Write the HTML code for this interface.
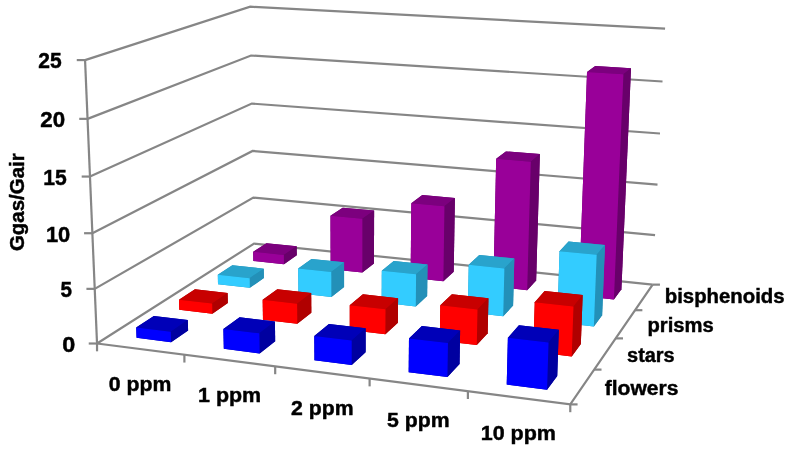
<!DOCTYPE html>
<html><head><meta charset="utf-8"><style>
html,body{margin:0;padding:0;background:#fff;}
svg{display:block;will-change:transform;}
text{font-family:"Liberation Sans",sans-serif;font-weight:bold;fill:#000;stroke:#000;stroke-width:0.45px;}
</style></head><body>
<svg width="789" height="449" viewBox="0 0 789 449">
<rect width="789" height="449" fill="#fff"/>
<polyline points="97.03,343.51 254.06,243.55 652.66,284.64" fill="none" stroke="#868686" stroke-width="2.2"/>
<polyline points="94.72,288.86 253.32,197.59 655.06,235.08" fill="none" stroke="#868686" stroke-width="2.2"/>
<polyline points="92.37,233.22 252.56,150.94 657.50,184.71" fill="none" stroke="#868686" stroke-width="2.2"/>
<polyline points="89.98,176.56 251.79,103.59 659.99,133.52" fill="none" stroke="#868686" stroke-width="2.2"/>
<polyline points="87.54,118.85 251.02,55.52 662.51,81.48" fill="none" stroke="#868686" stroke-width="2.2"/>
<polyline points="85.06,60.08 250.23,6.72 665.08,28.58" fill="none" stroke="#868686" stroke-width="2.2"/>
<line x1="97.03" y1="343.51" x2="85.06" y2="60.08" stroke="#868686" stroke-width="2.2"/>
<line x1="88.73" y1="343.51" x2="97.03" y2="343.51" stroke="#868686" stroke-width="2.2"/>
<line x1="86.42" y1="288.86" x2="94.72" y2="288.86" stroke="#868686" stroke-width="2.2"/>
<line x1="84.07" y1="233.22" x2="92.37" y2="233.22" stroke="#868686" stroke-width="2.2"/>
<line x1="81.68" y1="176.56" x2="89.98" y2="176.56" stroke="#868686" stroke-width="2.2"/>
<line x1="79.24" y1="118.85" x2="87.54" y2="118.85" stroke="#868686" stroke-width="2.2"/>
<line x1="76.76" y1="60.08" x2="85.06" y2="60.08" stroke="#868686" stroke-width="2.2"/>
<polyline points="97.03,343.51 570.27,404.40 652.66,284.64" fill="none" stroke="#868686" stroke-width="2.2"/>
<line x1="97.03" y1="343.51" x2="97.03" y2="351.31" stroke="#868686" stroke-width="2.2"/>
<line x1="184.40" y1="354.75" x2="184.40" y2="362.55" stroke="#868686" stroke-width="2.2"/>
<line x1="275.19" y1="366.43" x2="275.19" y2="374.23" stroke="#868686" stroke-width="2.2"/>
<line x1="369.61" y1="378.58" x2="369.61" y2="386.38" stroke="#868686" stroke-width="2.2"/>
<line x1="467.89" y1="391.23" x2="467.89" y2="399.03" stroke="#868686" stroke-width="2.2"/>
<line x1="570.27" y1="404.40" x2="570.27" y2="412.20" stroke="#868686" stroke-width="2.2"/>
<line x1="570.27" y1="404.40" x2="577.57" y2="404.40" stroke="#868686" stroke-width="2.2"/>
<line x1="594.21" y1="369.61" x2="601.51" y2="369.61" stroke="#868686" stroke-width="2.2"/>
<line x1="615.69" y1="338.38" x2="622.99" y2="338.38" stroke="#868686" stroke-width="2.2"/>
<line x1="635.07" y1="310.20" x2="642.37" y2="310.20" stroke="#868686" stroke-width="2.2"/>
<line x1="652.66" y1="284.64" x2="659.96" y2="284.64" stroke="#868686" stroke-width="2.2"/>
<polygon points="253.31,260.92 283.95,264.20 296.76,255.35 296.67,246.29 266.44,243.18 253.16,251.77" fill="#68006a"/>
<polygon points="253.16,251.77 283.85,254.98 296.67,246.29 266.44,243.18" fill="#7c007e"/>
<polygon points="283.95,264.20 296.76,255.35 296.67,246.29 283.85,254.98" fill="#68006a"/>
<polygon points="253.31,260.92 283.95,264.20 283.85,254.98 253.16,251.77" fill="#990099"/>
<polygon points="330.68,269.19 362.34,272.57 373.95,263.43 374.12,210.62 342.68,207.67 330.47,215.82" fill="#68006a"/>
<polygon points="330.47,215.82 362.41,218.87 374.12,210.62 342.68,207.67" fill="#7c007e"/>
<polygon points="362.34,272.57 373.95,263.43 374.12,210.62 362.41,218.87" fill="#68006a"/>
<polygon points="330.68,269.19 362.34,272.57 362.41,218.87 330.47,215.82" fill="#990099"/>
<polygon points="410.63,277.72 443.37,281.22 453.71,271.77 454.90,198.04 422.29,195.12 411.31,203.19" fill="#68006a"/>
<polygon points="411.31,203.19 444.45,206.22 454.90,198.04 422.29,195.12" fill="#7c007e"/>
<polygon points="443.37,281.22 453.71,271.77 454.90,198.04 444.45,206.22" fill="#68006a"/>
<polygon points="410.63,277.72 443.37,281.22 444.45,206.22 411.31,203.19" fill="#990099"/>
<polygon points="493.31,286.55 527.18,290.17 536.14,280.40 539.88,154.09 505.87,151.40 496.20,158.85" fill="#68006a"/>
<polygon points="496.20,158.85 530.79,161.65 539.88,154.09 505.87,151.40" fill="#7c007e"/>
<polygon points="527.18,290.17 536.14,280.40 539.88,154.09 530.79,161.65" fill="#68006a"/>
<polygon points="493.31,286.55 527.18,290.17 530.79,161.65 496.20,158.85" fill="#990099"/>
<polygon points="578.86,295.69 613.91,299.43 621.40,289.32 631.01,68.21 595.26,66.03 587.04,72.05" fill="#68006a"/>
<polygon points="587.04,72.05 623.43,74.31 631.01,68.21 595.26,66.03" fill="#7c007e"/>
<polygon points="613.91,299.43 621.40,289.32 631.01,68.21 623.43,74.31" fill="#68006a"/>
<polygon points="578.86,295.69 613.91,299.43 623.43,74.31 587.04,72.05" fill="#990099"/>
<polygon points="218.01,284.18 249.85,287.76 263.86,278.08 263.73,268.63 232.33,265.24 217.80,274.63" fill="#2390b8"/>
<polygon points="217.80,274.63 249.68,278.16 263.73,268.63 232.33,265.24" fill="#29a3cc"/>
<polygon points="249.85,287.76 263.86,278.08 263.73,268.63 249.68,278.16" fill="#2390b8"/>
<polygon points="218.01,284.18 249.85,287.76 249.68,278.16 217.80,274.63" fill="#33ccff"/>
<polygon points="298.42,293.23 331.37,296.94 344.10,286.92 344.06,262.34 311.51,258.92 298.20,268.38" fill="#2390b8"/>
<polygon points="298.20,268.38 331.27,271.93 344.06,262.34 311.51,258.92" fill="#29a3cc"/>
<polygon points="331.37,296.94 344.10,286.92 344.06,262.34 331.27,271.93" fill="#2390b8"/>
<polygon points="298.42,293.23 331.37,296.94 331.27,271.93 298.20,268.38" fill="#33ccff"/>
<polygon points="381.66,302.60 415.77,306.44 427.13,296.07 427.50,264.51 393.77,261.02 381.80,270.70" fill="#2390b8"/>
<polygon points="381.80,270.70 416.09,274.33 427.50,264.51 393.77,261.02" fill="#29a3cc"/>
<polygon points="415.77,306.44 427.13,296.07 427.50,264.51 416.09,274.33" fill="#2390b8"/>
<polygon points="381.66,302.60 415.77,306.44 416.09,274.33 381.80,270.70" fill="#33ccff"/>
<polygon points="467.86,312.31 503.21,316.29 513.08,305.54 514.30,258.51 479.28,254.98 468.74,264.74" fill="#2390b8"/>
<polygon points="468.74,264.74 504.38,268.41 514.30,258.51 479.28,254.98" fill="#29a3cc"/>
<polygon points="503.21,316.29 513.08,305.54 514.30,258.51 504.38,268.41" fill="#2390b8"/>
<polygon points="467.86,312.31 503.21,316.29 504.38,268.41 468.74,264.74" fill="#33ccff"/>
<polygon points="557.21,322.37 593.86,326.49 602.12,315.35 604.97,244.95 568.54,241.45 559.57,251.15" fill="#2390b8"/>
<polygon points="559.57,251.15 596.67,254.80 604.97,244.95 568.54,241.45" fill="#29a3cc"/>
<polygon points="593.86,326.49 602.12,315.35 604.97,244.95 596.67,254.80" fill="#2390b8"/>
<polygon points="557.21,322.37 593.86,326.49 596.67,254.80 559.57,251.15" fill="#33ccff"/>
<polygon points="179.27,309.70 212.39,313.64 227.81,302.99 227.60,293.03 194.96,289.30 178.99,299.63" fill="#b00000"/>
<polygon points="178.99,299.63 212.16,303.50 227.60,293.03 194.96,289.30" fill="#c80000"/>
<polygon points="212.39,313.64 227.81,302.99 227.60,293.03 212.16,303.50" fill="#b00000"/>
<polygon points="179.27,309.70 212.39,313.64 212.16,303.50 178.99,299.63" fill="#ff0000"/>
<polygon points="262.97,319.66 297.30,323.75 311.33,312.71 311.19,293.05 277.32,289.25 262.67,299.78" fill="#b00000"/>
<polygon points="262.67,299.78 297.12,303.73 311.19,293.05 277.32,289.25" fill="#c80000"/>
<polygon points="297.30,323.75 311.33,312.71 311.19,293.05 297.12,303.73" fill="#b00000"/>
<polygon points="262.97,319.66 297.30,323.75 297.12,303.73 262.67,299.78" fill="#ff0000"/>
<polygon points="349.75,329.99 385.37,334.23 397.89,322.79 398.07,298.26 362.93,294.35 349.73,305.18" fill="#b00000"/>
<polygon points="349.73,305.18 385.50,309.26 398.07,298.26 362.93,294.35" fill="#c80000"/>
<polygon points="385.37,334.23 397.89,322.79 398.07,298.26 385.50,309.26" fill="#b00000"/>
<polygon points="349.75,329.99 385.37,334.23 385.50,309.26 349.73,305.18" fill="#ff0000"/>
<polygon points="439.80,340.71 476.77,345.12 487.67,333.23 488.43,298.18 451.92,294.19 440.29,305.24" fill="#b00000"/>
<polygon points="440.29,305.24 477.49,309.40 488.43,298.18 451.92,294.19" fill="#c80000"/>
<polygon points="476.77,345.12 487.67,333.23 488.43,298.18 477.49,309.40" fill="#b00000"/>
<polygon points="439.80,340.71 476.77,345.12 477.49,309.40 440.29,305.24" fill="#ff0000"/>
<polygon points="533.29,351.84 571.69,356.42 580.84,344.08 582.66,295.12 544.66,291.06 534.74,302.29" fill="#b00000"/>
<polygon points="534.74,302.29 573.48,306.51 582.66,295.12 544.66,291.06" fill="#c80000"/>
<polygon points="571.69,356.42 580.84,344.08 582.66,295.12 573.48,306.51" fill="#b00000"/>
<polygon points="533.29,351.84 571.69,356.42 573.48,306.51 534.74,302.29" fill="#ff0000"/>
<polygon points="136.57,337.83 171.08,342.19 188.10,330.42 187.82,320.11 153.83,316.00 136.20,327.40" fill="#0000a0"/>
<polygon points="136.20,327.40 170.76,331.68 187.82,320.11 153.83,316.00" fill="#0000b8"/>
<polygon points="171.08,342.19 188.10,330.42 187.82,320.11 170.76,331.68" fill="#0000a0"/>
<polygon points="136.57,337.83 171.08,342.19 170.76,331.68 136.20,327.40" fill="#0000ff"/>
<polygon points="223.82,348.85 259.66,353.38 275.18,341.16 274.92,321.45 239.59,317.24 223.39,328.91" fill="#0000a0"/>
<polygon points="223.39,328.91 259.34,333.29 274.92,321.45 239.59,317.24" fill="#0000b8"/>
<polygon points="259.66,353.38 275.18,341.16 274.92,321.45 259.34,333.29" fill="#0000a0"/>
<polygon points="223.82,348.85 259.66,353.38 259.34,333.29 223.39,328.91" fill="#0000ff"/>
<polygon points="314.46,360.30 351.71,365.00 365.59,352.31 365.64,328.28 328.92,323.93 314.30,335.97" fill="#0000a0"/>
<polygon points="314.30,335.97 351.69,340.51 365.64,328.28 328.92,323.93" fill="#0000b8"/>
<polygon points="351.71,365.00 365.59,352.31 365.64,328.28 351.69,340.51" fill="#0000a0"/>
<polygon points="314.46,360.30 351.71,365.00 351.69,340.51 314.30,335.97" fill="#0000ff"/>
<polygon points="408.68,372.20 447.43,377.09 459.54,363.89 460.12,330.52 421.89,326.07 408.99,338.42" fill="#0000a0"/>
<polygon points="408.99,338.42 447.95,343.07 460.12,330.52 421.89,326.07" fill="#0000b8"/>
<polygon points="447.43,377.09 459.54,363.89 460.12,330.52 447.95,343.07" fill="#0000a0"/>
<polygon points="408.68,372.20 447.43,377.09 447.95,343.07 408.99,338.42" fill="#0000ff"/>
<polygon points="506.72,384.58 547.05,389.68 557.23,375.94 558.78,329.75 518.93,325.21 507.90,337.81" fill="#0000a0"/>
<polygon points="507.90,337.81 548.55,342.56 558.78,329.75 518.93,325.21" fill="#0000b8"/>
<polygon points="547.05,389.68 557.23,375.94 558.78,329.75 548.55,342.56" fill="#0000a0"/>
<polygon points="506.72,384.58 547.05,389.68 548.55,342.56 507.90,337.81" fill="#0000ff"/>
<text transform="translate(38.37,67.80) scale(0.9859,1)" font-size="21.3">25</text>
<text transform="translate(40.33,126.90) scale(1.0473,1)" font-size="21.3">20</text>
<text transform="translate(43.34,184.70) scale(0.9896,1)" font-size="21.3">15</text>
<text transform="translate(45.89,241.50) scale(1.0273,1)" font-size="21.3">10</text>
<text transform="translate(60.48,297.40) scale(0.9671,1)" font-size="21.3">5</text>
<text transform="translate(62.16,352.20) scale(1.0988,1)" font-size="21.3">0</text>
<text transform="translate(108.75,391.30) scale(1.0103,1)" font-size="21.05">0 ppm</text>
<text transform="translate(198.01,402.30) scale(1.0192,1)" font-size="21.05">1 ppm</text>
<text transform="translate(291.06,414.60) scale(1.0085,1)" font-size="21.05">2 ppm</text>
<text transform="translate(387.06,426.90) scale(1.0085,1)" font-size="21.05">5 ppm</text>
<text transform="translate(480.71,440.10) scale(1.0218,1)" font-size="21.05">10 ppm</text>
<text transform="translate(664.77,303.30) scale(0.9885,1)" font-size="20.6">bisphenoids</text>
<text transform="translate(647.48,331.70) scale(0.9816,1)" font-size="20.6">prisms</text>
<text transform="translate(627.10,361.80) scale(0.9667,1)" font-size="20.6">stars</text>
<text transform="translate(604.68,394.70) scale(1.0231,1)" font-size="20.6">flowers</text>
<text transform="translate(24.3,251.02) rotate(-90) scale(1.0071,1)" font-size="20.3">Ggas/Gair</text>
</svg>
</body></html>
